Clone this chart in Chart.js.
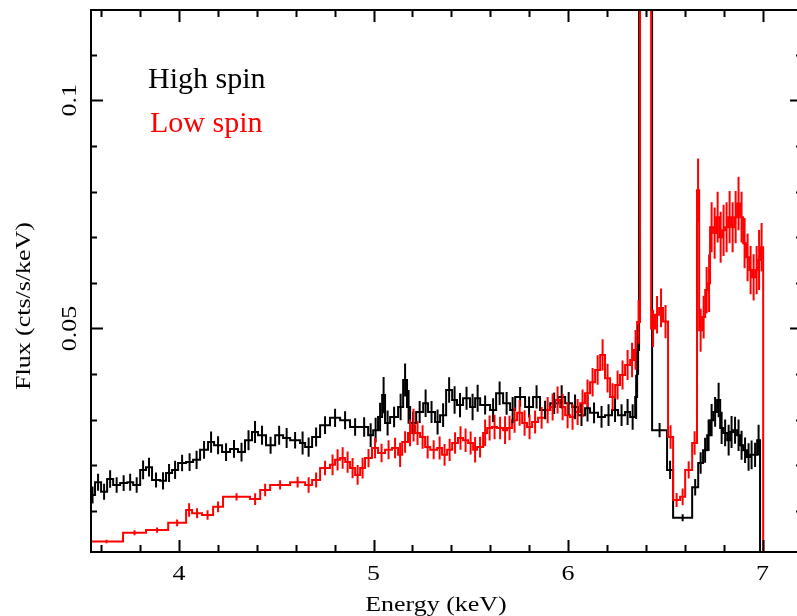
<!DOCTYPE html>
<html>
<head>
<meta charset="utf-8">
<title>Fe K spectrum</title>
<script src="https://cdn.jsdelivr.net/npm/chart.js@4.4.1/dist/chart.umd.min.js"></script>
<style>
  html, body { margin: 0; padding: 0; background: #fff; }
  #spec { display: block; }
</style>
</head>
<body>
<canvas id="spec" width="797" height="616"></canvas>
<script>
// Binned spectra: bin edges in keV (n+1 entries), flux per bin in cts/s/keV
const highEdges = [
  3.542, 3.568, 3.599, 3.630, 3.661, 3.697, 3.733, 3.764, 3.800, 3.830,
  3.861, 3.902, 3.933, 3.964, 3.995, 4.036, 4.072, 4.108, 4.149, 4.180,
  4.221, 4.262, 4.303, 4.339, 4.375, 4.406, 4.447, 4.494, 4.535, 4.571,
  4.622, 4.648, 4.684, 4.725, 4.776, 4.828, 4.879, 4.931, 4.972, 4.998,
  5.023, 5.044, 5.059, 5.085, 5.126, 5.152, 5.172, 5.188, 5.219, 5.255,
  5.280, 5.316, 5.342, 5.373, 5.404, 5.429, 5.460, 5.496, 5.522, 5.548,
  5.599, 5.630, 5.666, 5.702, 5.728, 5.779, 5.820, 5.856, 5.908, 5.949,
  5.985, 6.021, 6.051, 6.087, 6.113, 6.154, 6.190, 6.226, 6.257, 6.293,
  6.319, 6.345, 6.355, 6.365, 6.432, 6.509, 6.540, 6.638, 6.669, 6.694,
  6.715, 6.730, 6.746, 6.766, 6.782, 6.797, 6.818, 6.833, 6.848, 6.869,
  6.884, 6.900, 6.920, 6.936, 6.951, 6.972, 6.987, 7.003
];
const highFlux = [
  0.0135, 0.0163, 0.0142, 0.0170, 0.0157, 0.0161, 0.0163, 0.0157, 0.0190, 0.0196,
  0.0168, 0.0166, 0.0183, 0.0190, 0.0205, 0.0207, 0.0212, 0.0234, 0.0251, 0.0244,
  0.0229, 0.0236, 0.0229, 0.0255, 0.0273, 0.0266, 0.0244, 0.0266, 0.0260, 0.0255,
  0.0249, 0.0240, 0.0262, 0.0288, 0.0304, 0.0299, 0.0284, 0.0284, 0.0266, 0.0277,
  0.0306, 0.0354, 0.0293, 0.0306, 0.0328, 0.0387, 0.0328, 0.0293, 0.0317, 0.0336,
  0.0317, 0.0295, 0.0310, 0.0365, 0.0343, 0.0332, 0.0347, 0.0328, 0.0347, 0.0332,
  0.0321, 0.0358, 0.0336, 0.0321, 0.0350, 0.0328, 0.0350, 0.0321, 0.0336, 0.0350,
  0.0336, 0.0328, 0.0310, 0.0325, 0.0315, 0.0306, 0.0310, 0.0321, 0.0310, 0.0317,
  0.0306, 0.0350, 0.0453, 0.150, 0.0277, 0.0190, 0.0085, 0.0152, 0.0205, 0.0233,
  0.0266, 0.0299, 0.0317, 0.0343, 0.0282, 0.0271, 0.0255, 0.0273, 0.0277, 0.0266,
  0.0244, 0.0233, 0.0218, 0.0223, 0.0223, 0.0255, 0
];
const lowEdges = [
  3.542, 3.712, 3.830, 3.944, 4.036, 4.067, 4.118, 4.175, 4.226, 4.365,
  4.417, 4.468, 4.571, 4.648, 4.684, 4.725, 4.776, 4.802, 4.828, 4.854,
  4.879, 4.905, 4.931, 4.956, 4.992, 5.023, 5.059, 5.095, 5.126, 5.147,
  5.177, 5.198, 5.213, 5.239, 5.265, 5.291, 5.327, 5.352, 5.378, 5.404,
  5.434, 5.460, 5.486, 5.512, 5.532, 5.563, 5.584, 5.609, 5.635, 5.666,
  5.686, 5.712, 5.738, 5.764, 5.789, 5.815, 5.846, 5.882, 5.908, 5.933,
  5.959, 5.985, 6.010, 6.036, 6.062, 6.087, 6.113, 6.139, 6.165, 6.190,
  6.216, 6.242, 6.267, 6.293, 6.319, 6.339, 6.355, 6.370, 6.427, 6.447,
  6.468, 6.488, 6.514, 6.540, 6.576, 6.602, 6.638, 6.663, 6.674, 6.689,
  6.705, 6.720, 6.730, 6.746, 6.761, 6.777, 6.792, 6.807, 6.823, 6.838,
  6.854, 6.869, 6.884, 6.900, 6.915, 6.931, 6.946, 6.962, 6.977, 6.987,
  7.003, 7.018
];
const lowFlux = [
  0.0033, 0.0052, 0.0058, 0.0074, 0.0102, 0.0095, 0.0091, 0.0109, 0.0131, 0.0126,
  0.0146, 0.0157, 0.0163, 0.0157, 0.0168, 0.0194, 0.0201, 0.0212, 0.0216, 0.0207,
  0.0194, 0.0179, 0.0194, 0.0216, 0.0238, 0.0227, 0.0234, 0.0238, 0.0223, 0.0251,
  0.0271, 0.0288, 0.0271, 0.0262, 0.0240, 0.0234, 0.0238, 0.0223, 0.0234, 0.0249,
  0.0260, 0.0255, 0.0249, 0.0234, 0.0240, 0.0271, 0.0282, 0.0284, 0.0282, 0.0277,
  0.0282, 0.0299, 0.0315, 0.0293, 0.0284, 0.0295, 0.0304, 0.0321, 0.0328, 0.0343,
  0.0328, 0.0310, 0.0306, 0.0317, 0.0336, 0.0358, 0.0382, 0.0409, 0.0442, 0.0391,
  0.0350, 0.0376, 0.0398, 0.0420, 0.0431, 0.0453, 0.0514, 0.160, 0.0500, 0.0530,
  0.0545, 0.0515, 0.0262, 0.0124, 0.0131, 0.0190, 0.0249, 0.0803, 0.0496, 0.0525,
  0.0584, 0.0599, 0.0722, 0.0709, 0.0744, 0.0700, 0.0715, 0.0722, 0.0744, 0.0722,
  0.0744, 0.0774, 0.0744, 0.0687, 0.0656, 0.0628, 0.0612, 0.0628, 0.0650, 0.0678,
  0
];

const seriesNames = ['High spin', 'Low spin'];
const seriesColors = ['#000000', '#ff0000'];
const xTickValues = [4, 5, 6, 7];
const xTickLabels = ['4', '5', '6', '7'];
const yTickValues = [0.05, 0.1];
const yTickLabels = ['0.05', '0.1'];

const EXPOSURE = 1.5e5;   // s, sets the counting errors
const X_MIN = 3.542, X_MAX = 7.177;
const X_FRAME = 7.208;    // right-hand box edge, just past the canvas
const Y_MIN = 0.001, Y_MAX = 0.1198;
const SERIF = '"Liberation Serif", "Times New Roman", serif';

// left edge of each bin carries its value; the last point closes the final bin
function steps(edges, flux) {
  const pts = flux.map((v, i) => ({ x: edges[i], y: v }));
  pts.push({ x: edges[edges.length - 1], y: flux[flux.length - 1] });
  return pts;
}

// 1-sigma Poisson error on a bin
function binError(v, width) {
  return v > 0 ? Math.sqrt(v / (EXPOSURE * width)) : 0;
}

const errorBars = {
  id: 'errorBars',
  afterDatasetsDraw(chart) {
    const { ctx, chartArea: a, scales: { x, y } } = chart;
    ctx.save();
    ctx.beginPath();
    ctx.rect(a.left, a.top, a.right - a.left, a.bottom - a.top);
    ctx.clip();
    [[highEdges, highFlux, seriesColors[0]], [lowEdges, lowFlux, seriesColors[1]]].forEach(([edges, flux, col]) => {
      ctx.strokeStyle = col;
      ctx.lineWidth = 2;
      ctx.beginPath();
      flux.forEach((v, i) => {
        const w = edges[i + 1] - edges[i];
        const e = binError(v, w);
        if (!e) return;
        const cx = x.getPixelForValue((edges[i] + edges[i + 1]) / 2);
        ctx.moveTo(cx, y.getPixelForValue(v - e));
        ctx.lineTo(cx, y.getPixelForValue(v + e));
      });
      ctx.stroke();
    });
    ctx.restore();
  }
};

function text(ctx, str, px, py, opts) {
  ctx.save();
  ctx.translate(px, py);
  if (opts.rotate) ctx.rotate(opts.rotate);
  ctx.scale(opts.stretch || 1, 1);
  ctx.font = opts.font;
  ctx.fillStyle = opts.color || '#000';
  ctx.textAlign = opts.align || 'center';
  ctx.textBaseline = 'alphabetic';
  ctx.fillText(str, 0, 0);
  ctx.restore();
}

// box, inward ticks, tick labels, axis titles and the series labels
const frame = {
  id: 'frame',
  afterDraw(chart) {
    const { ctx, chartArea: a, scales: { x, y } } = chart;
    const right = x.getPixelForValue(X_FRAME);
    ctx.save();
    ctx.strokeStyle = '#000';
    ctx.lineWidth = 2;
    ctx.strokeRect(a.left + 1, a.top, right - a.left - 1, a.bottom - a.top);

    ctx.beginPath();
    for (let k = 18; k <= 36; k++) {
      const len = k % 5 === 0 ? 12 : 7;
      const px = Math.round(x.getPixelForValue(k / 5)) + 0.5;
      ctx.moveTo(px, a.bottom); ctx.lineTo(px, a.bottom - len);
      ctx.moveTo(px, a.top); ctx.lineTo(px, a.top + len);
    }
    for (let k = 1; k <= 11; k++) {
      const len = k % 5 === 0 ? 13 : 7;
      const py = Math.round(y.getPixelForValue(k / 100)) + 0.5;
      ctx.moveTo(a.left, py); ctx.lineTo(a.left + len, py);
      ctx.moveTo(right, py); ctx.lineTo(right - len, py);
    }
    ctx.stroke();
    ctx.restore();

    const axisFont = '22px ' + SERIF;
    xTickValues.forEach((v, i) => {
      text(ctx, xTickLabels[i], x.getPixelForValue(v), 580, { font: axisFont, stretch: 1.18 });
    });
    yTickValues.forEach((v, i) => {
      text(ctx, yTickLabels[i], 76, y.getPixelForValue(v), { font: axisFont, stretch: 1.18, rotate: -Math.PI / 2 });
    });
    text(ctx, 'Energy (keV)', 436, 611, { font: axisFont, stretch: 1.18 });
    text(ctx, 'Flux (cts/s/keV)', 30, 306, { font: axisFont, stretch: 1.18, rotate: -Math.PI / 2 });

    const keyFont = '30px ' + SERIF;
    text(ctx, seriesNames[0], 148, 88, { font: keyFont, align: 'left', color: seriesColors[0] });
    text(ctx, seriesNames[1], 150, 132, { font: keyFont, align: 'left', color: seriesColors[1] });
  }
};

const lineStyle = {
  stepped: true,
  pointRadius: 0,
  borderWidth: 2,
  fill: false,
  tension: 0
};

new Chart(document.getElementById('spec'), {
  type: 'line',
  data: {
    datasets: [
      Object.assign({ label: seriesNames[1], data: steps(lowEdges, lowFlux), borderColor: seriesColors[1], order: 0 }, lineStyle),
      Object.assign({ label: seriesNames[0], data: steps(highEdges, highFlux), borderColor: seriesColors[0], order: 1 }, lineStyle)
    ]
  },
  options: {
    responsive: false,
    devicePixelRatio: 1,
    animation: false,
    layout: { padding: { left: 90, right: 0, top: 10, bottom: 64 } },
    scales: {
      x: { type: 'linear', min: X_MIN, max: X_MAX, display: false },
      y: { type: 'linear', min: Y_MIN, max: Y_MAX, display: false }
    },
    plugins: {
      legend: { display: false },
      tooltip: { enabled: false }
    }
  },
  plugins: [errorBars, frame]
});
</script>
</body>
</html>
